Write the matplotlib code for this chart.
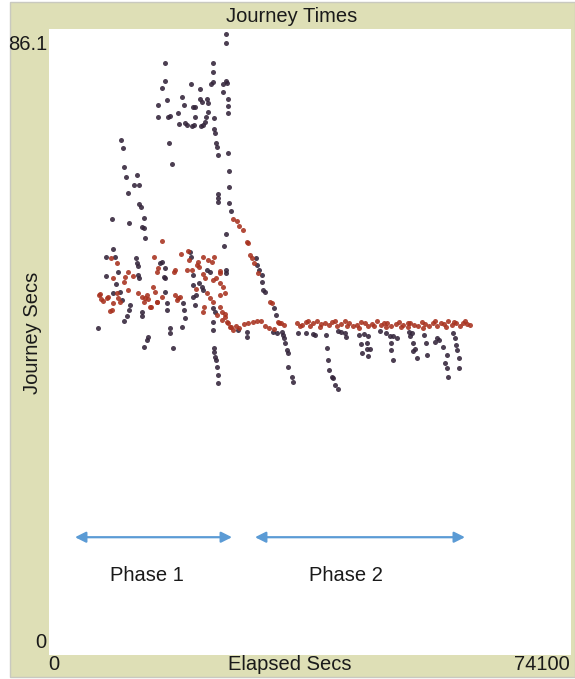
import matplotlib.pyplot as plt
from matplotlib.patches import Rectangle

plt.rcParams['font.family'] = ['Liberation Sans', 'DejaVu Sans']

# axis ranges of the plot
x_max = 74100
y_max = 86.1

# dark pen: (elapsed secs, journey secs)
dark_x = [25130, 25130, 16470, 23280, 23280, 16470, 16040, 20160, 21430, 23000,
          23280, 24700, 25130, 25270, 24700, 16750, 15470, 15470, 18880, 19160,
          20440, 20720, 21430, 21720, 22430, 22570, 18310, 16890, 17180, 18450,
          19310, 19590, 20720, 20300, 20580, 21580, 21860, 22140, 22290, 22570,
          23420, 23420, 23560, 25410, 25410, 25410, 23710, 23850, 23990, 25410,
          25550, 25550, 25550, 25840, 23990, 23990, 23990, 17030, 17460, 10220,
          10500, 10650, 10930, 12490, 12070, 12780, 11210, 12780, 13060, 13490,
          8940, 11360, 13200, 13490, 13630,
          9080, 8090, 9370, 12350, 12490, 12630, 9790, 8090, 12630, 12780,
          16320, 9510, 9080, 10080, 10360, 11500, 11360, 13200, 13200, 11070,
          10650, 6960, 14050, 13910, 13490, 15760, 25130, 24840, 20010, 20160,
          16040, 16470, 22430, 22850, 25130, 25130, 16470, 20440, 20440, 21290,
          21720, 21860, 16470, 20440, 20870, 16750, 16750, 19020, 19160, 19310,
          20720, 23280, 23560, 17180, 17180, 18880, 23280, 23280, 17600, 23420,
          23420, 23560, 23710, 23850, 23990, 23990, 26830,
          29380, 29530, 29810, 30240, 30240, 30380, 30660, 31940, 32220, 33070,
          33220, 33360, 33500, 33780, 33930, 33930, 34490, 34640, 28110, 28110,
          31800, 32370, 35350, 36480, 37470, 37760, 39320, 39460, 39600, 39740,
          40170, 40310, 40600, 41020, 41020, 41450, 42020, 42160, 44010, 44720,
          45280, 44290, 45140, 44430, 45140, 45570, 45280, 46990, 47840, 48400,
          48830, 49400, 48550, 48550, 48830, 51100, 51530, 51240, 51670, 51950,
          51670, 52240, 53230, 53520, 53660, 55080, 55360, 54790, 55930, 56500,
          56210, 56500, 56640, 57350, 57630, 57770, 57920, 58200, 58200]
dark_y = [85.4, 84.2, 81.4, 81.4, 80.2, 78.9, 78.0, 78.5, 77.8, 78.5,
          78.8, 78.5, 78.9, 78.7, 77.4, 76.3, 75.6, 74.0, 76.7, 75.6,
          75.4, 75.4, 76.5, 76.1, 76.5, 75.9, 74.5, 74.0, 74.1, 73.0,
          73.2, 72.9, 74.0, 72.8, 72.9, 72.8, 72.9, 73.3, 74.0, 74.7,
          73.9, 72.3, 71.8, 76.5, 75.5, 74.5, 70.4, 69.9, 68.8, 69.0,
          66.6, 64.4, 62.2, 61.1, 63.4, 62.9, 62.3, 70.4, 67.5, 70.8,
          69.7, 67.1, 65.7, 66.0, 64.6, 64.6, 63.5, 62.0, 61.6, 60.1,
          60.0, 59.4, 58.9, 58.7, 57.4,
          55.8, 54.7, 54.8, 54.6, 53.9, 53.5, 52.7, 52.1, 52.3, 51.9,
          52.0, 51.0, 49.8, 49.9, 48.8, 48.1, 47.5, 47.2, 46.6, 46.6,
          45.9, 45.0, 43.7, 43.3, 42.4, 53.9, 57.9, 56.2, 55.4, 54.7,
          54.1, 53.2, 53.0, 52.7, 53.0, 52.5, 51.9, 52.3, 50.9, 51.2,
          50.6, 50.2, 49.9, 49.2, 49.5, 48.4, 47.5, 48.4, 47.5, 46.4,
          48.1, 47.7, 47.2, 45.0, 44.3, 45.1, 45.8, 44.7, 42.2, 42.2,
          41.7, 41.0, 40.6, 39.6, 38.5, 37.4, 44.7,
          54.6, 53.6, 53.0, 52.3, 51.3, 50.2, 49.9, 47.7, 46.8, 44.4,
          44.0, 43.6, 42.9, 41.9, 41.5, 39.6, 38.2, 37.5, 44.4, 43.7,
          44.4, 44.3, 44.3, 44.3, 44.2, 44.0, 44.0, 42.2, 40.6, 39.2,
          38.2, 38.1, 37.1, 36.6, 44.6, 44.4, 44.3, 43.7, 44.0, 44.2,
          43.9, 42.8, 42.9, 41.5, 42.1, 42.1, 41.1, 44.6, 44.3, 43.9,
          43.9, 43.6, 42.9, 41.9, 40.6, 44.4, 44.3, 43.9, 42.9, 42.1,
          41.8, 40.8, 44.0, 42.9, 41.3, 43.6, 43.3, 43.0, 42.4, 41.3,
          40.2, 39.5, 38.2, 44.3, 43.6, 42.6, 41.9, 40.8, 39.5]

# red pen
red_x = [8800, 9650, 14900, 16040, 11210, 9080, 11920, 10650, 15330, 15470,
         11210, 7100, 7380, 7670, 8380, 9650, 9790, 10080, 8940, 12630,
         13200, 13910, 14760, 15050, 13490, 14050, 14480, 15330, 16040, 18740,
         19870, 21860, 22570, 23140, 23420, 17740, 19590, 20300, 21010, 21290,
         24270, 24270, 21860, 22140, 23280, 23710, 24270, 24700, 17890, 18170,
         18310, 18600, 22430, 22850, 23280, 24270, 24980, 21860, 24270, 24560,
         24980, 25270, 25690, 26120,
         10790, 17890, 19730, 21220, 13630, 14340, 15290, 7240, 8660, 9080,
         8230, 20900, 22000, 23900, 24600, 25000,
         26120, 26690, 26970, 27540, 28110, 28250, 28530, 28820, 29100, 29670,
         31370, 31660, 32510, 32930,
         25400, 25900, 26500, 27000, 27700, 28300, 28900, 29500, 30100, 30700,
         31300, 31900, 32700, 33400, 35200, 35900, 36500, 37000, 37500, 38100,
         38600, 39200, 39800, 40200, 40900, 41500, 42000, 42600, 43200, 43700,
         44300, 44800, 45300, 45900, 46500, 47100, 47500, 48000, 48600, 49200,
         49700, 50300, 50900, 51300, 51800, 52400, 52900, 53400, 54000, 54500,
         55100, 55600, 56100, 56700, 57200, 57800, 58300, 58800, 59300, 59700,
         35600, 36800, 38400, 40600, 42300, 44000, 46200, 47800, 50000, 51000,
         53100, 54800, 56400, 57500, 59000]
red_y = [54.6, 53.9, 54.8, 56.9, 52.7, 51.9, 52.1, 51.3, 52.7, 53.2,
         50.2, 49.5, 49.0, 48.7, 49.2, 49.8, 49.1, 48.6, 47.5, 49.8,
         49.2, 49.5, 50.6, 49.9, 48.6, 49.0, 47.9, 48.6, 49.2, 55.1,
         54.3, 54.8, 54.3, 54.1, 54.8, 52.7, 53.0, 53.0, 53.6, 53.4,
         52.8, 52.5, 52.4, 51.9, 51.6, 51.9, 51.2, 50.6, 49.5, 48.8,
         49.1, 49.2, 49.8, 49.1, 48.6, 49.5, 49.8, 47.2, 47.9, 47.2,
         46.5, 45.8, 45.1, 44.7,
         52.0, 52.9, 55.5, 54.1, 49.1, 47.9, 48.6, 49.7, 47.3, 48.4,
         49.1, 50.4, 47.9, 46.8, 46.1, 46.9,
         60.0, 59.7, 59.0, 58.5, 56.8, 56.7, 55.0, 54.6, 53.9, 52.5,
         48.6, 48.4, 45.8, 45.7,
         45.6, 45.1, 45.3, 45.0, 45.5, 45.7, 45.8, 45.9, 46.0, 45.3,
         45.0, 44.9, 45.6, 45.4, 45.6, 45.4, 45.8, 45.3, 45.6, 45.9,
         45.5, 45.7, 45.4, 45.8, 45.3, 45.5, 45.9, 45.6, 45.2, 45.4,
         45.8, 45.6, 45.3, 45.5, 45.9, 45.4, 45.7, 45.6, 45.2, 45.5,
         45.8, 45.4, 45.7, 45.6, 45.4, 45.3, 45.8, 45.5, 45.3, 45.6,
         45.2, 45.7, 45.5, 45.9, 45.4, 45.7, 45.3, 45.6, 45.5, 45.4,
         45.2, 46.0, 45.1, 45.9, 45.2, 45.0, 45.2, 45.1, 45.1, 45.1,
         45.0, 45.9, 45.1, 45.8, 45.9]

# phase annotations
phase_names = ['Phase 1', 'Phase 2']
phase_start = [3690, 29240]
phase_end = [25980, 59050]
phase_arrow_y = 16.2
phase_label_y = 11.0

frame_col = '#dedfb6'
arrow_col = '#5b9bd5'

fig = plt.figure(figsize=(5.75, 6.79), dpi=100)
frame = Rectangle((10 / 575, 2 / 679), 1 - 10 / 575, 675 / 679,
                  transform=fig.transFigure, facecolor=frame_col,
                  edgecolor='#c9c9c0', lw=1, zorder=-5)
fig.patches.append(frame)

ax = fig.add_axes([49 / 575, 1 - 655 / 679, 522 / 575, 626 / 679])
ax.set_zorder(2)
ax.set_facecolor('white')
ax.set_xlim(0, x_max)
ax.set_ylim(0, y_max)
ax.set_xticks([])
ax.set_yticks([])
for s in ax.spines.values():
    s.set_visible(False)

ax.scatter(dark_x, dark_y, s=13, color='#33243a', alpha=0.88, linewidths=0)
ax.scatter(red_x, red_y, s=13, color='#a8321f', alpha=0.88, linewidths=0)

for name, x0, x1 in zip(phase_names, phase_start, phase_end):
    ax.annotate('', xy=(x1, phase_arrow_y), xytext=(x0, phase_arrow_y),
                arrowprops=dict(arrowstyle='<|-|>', color=arrow_col, lw=1.6,
                                mutation_scale=16, shrinkA=0, shrinkB=0))
ax.text((phase_start[0] + phase_end[0]) / 2 - 900, phase_label_y, phase_names[0],
        ha='center', va='center', fontsize=14.5, color='#1a1a1a')
ax.text((phase_start[1] + phase_end[1]) / 2 - 2000, phase_label_y, phase_names[1],
        ha='center', va='center', fontsize=14.5, color='#1a1a1a')

fs = 14.5
fig.text(292 / 575, 1 - 16 / 679, 'Journey Times', ha='center', va='center', fontsize=fs, color='#1a1a1a')
fig.text(47 / 575, 1 - 44 / 679, str(y_max), ha='right', va='center', fontsize=fs, color='#1a1a1a')
fig.text(46 / 575, 1 - 643 / 679, '0', ha='right', va='center', fontsize=fs, color='#1a1a1a')
fig.text(48 / 575, 1 - 664 / 679, '0', ha='left', va='center', fontsize=fs, color='#1a1a1a')
fig.text(290 / 575, 1 - 664 / 679, 'Elapsed Secs', ha='center', va='center', fontsize=fs, color='#1a1a1a')
fig.text(570 / 575, 1 - 664 / 679, str(x_max), ha='right', va='center', fontsize=fs, color='#1a1a1a')
fig.text(33 / 575, 1 - 333 / 679, 'Journey Secs', ha='center', va='center', rotation=90,
         fontsize=fs, color='#1a1a1a')

fig.savefig('out.png', dpi=100)
